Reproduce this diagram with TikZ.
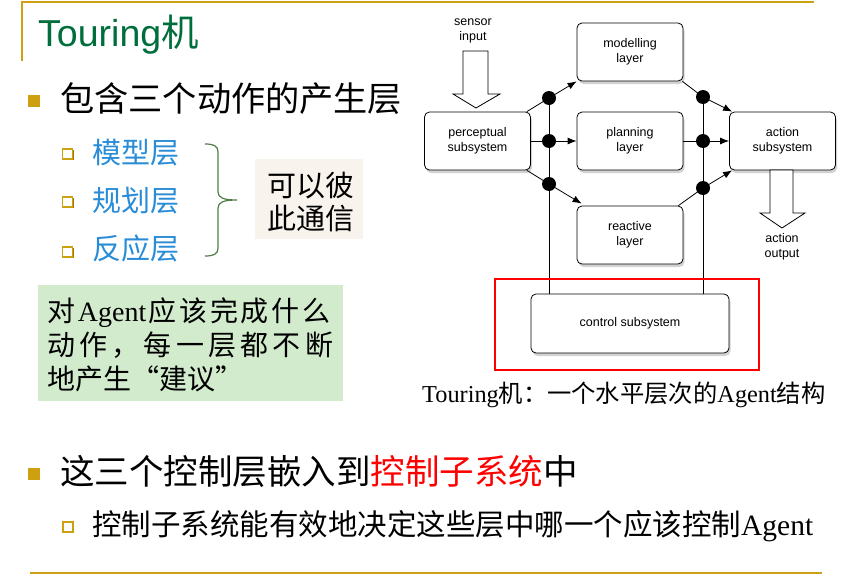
\documentclass[tikz,border=0pt]{standalone}
\usepackage{fontspec}
\setmainfont{Liberation Serif}
\newfontfamily\cjk{Noto Sans CJK SC}
\newfontfamily\sans{Liberation Sans}
\usetikzlibrary{shadows,calc,arrows.meta}

\definecolor{gold}{RGB}{204,160,16}
\definecolor{golddk}{RGB}{165,120,0}
\definecolor{titlegreen}{RGB}{0,110,60}
\definecolor{itemblue}{RGB}{40,140,215}
\definecolor{notegreen}{RGB}{210,235,205}
\definecolor{notebeige}{RGB}{248,243,237}
\definecolor{bracegreen}{RGB}{80,125,70}

\newcommand{\setfs}[1]{\fontsize{#1}{#1}\selectfont}

\begin{document}
\begin{tikzpicture}[x=1pt,y=-1pt,
  txt/.style={anchor=base west, inner sep=0pt},
  hbul/.style={draw=gold, fill=white, line width=1.4pt, minimum size=10pt, inner sep=0pt,
    drop shadow={shadow xshift=1.3pt, shadow yshift=-1.3pt, fill=golddk, opacity=1}},
  box/.style={draw, rounded corners=5pt, fill=white, line width=0.8pt,
    minimum width=106pt, minimum height=58pt, align=center,
    font=\sans\fontsize{12.5}{15}\selectfont,
    drop shadow={shadow xshift=1.5pt, shadow yshift=-3pt, opacity=0.35}},
  lbl/.style={align=center, inner sep=0pt, font=\sans\fontsize{12.5}{14.5}\selectfont},
  jdot/.style={circle, fill=black, inner sep=0pt, minimum size=14pt},
  link/.style={line width=0.8pt},
  arr/.style={link, -{Latex[length=9pt,width=7pt]}},
  hollowarrow/.style={draw, fill=white, line width=0.8pt}
]
\useasboundingbox[fill=white] (0,0) rectangle (844,581);

% slide frame lines
\draw[gold, line width=2pt] (22,61) -- (22,2) -- (814,2);
\draw[gold, line width=2.2pt] (30,573) -- (822,573);

% title
\node[txt, text=titlegreen] (title) at (38,46) {\sans\setfs{37.5}Touring{\cjk 机}};

% first bullet and its items
\fill[gold] (28,95) rectangle (40,107);
\node[txt] (t1) at (60,111) {\cjk\setfs{34.2}包含三个动作的产生层};

\node[hbul] (hb1) at (67.5,154) {};
\node[hbul] (hb2) at (67.5,202) {};
\node[hbul] (hb3) at (67.5,252) {};
\node[txt, text=itemblue] (i1) at (92,163) {\cjk\setfs{29}模型层};
\node[txt, text=itemblue] (i2) at (92,211) {\cjk\setfs{29}规划层};
\node[txt, text=itemblue] (i3) at (92,259) {\cjk\setfs{29}反应层};

% curly brace grouping the three layers
\draw[bracegreen, line width=1.2pt]
  (205,144) .. controls (214,144) and (218,146) .. (218,152) -- (218,192)
  .. controls (218,198) and (224,200) .. (237,200)
  .. controls (224,200) and (218,202) .. (218,208) -- (218,248)
  .. controls (218,254) and (214,256) .. (205,256);

\node[fill=notebeige, minimum width=108pt, minimum height=80pt, inner sep=0pt] (comm) at (309,199) {};
\node[txt] (c1) at (267,196) {\cjk\setfs{29}可以彼};
\node[txt] (c2) at (267,229) {\cjk\setfs{29}此通信};

% green note
\node[fill=notegreen, minimum width=305pt, minimum height=116pt, inner sep=0pt, anchor=north west] (note) at (38,285) {};
\node[txt] (n1) at (47,321) {\setfs{28}\hbox to 283pt{{\cjk 对}\hfill Agent\hfill{\cjk 应\hfill 该\hfill 完\hfill 成\hfill 什\hfill 么}}};
\node[txt] (n2) at (47,355) {\cjk\setfs{28}\hbox to 286pt{动\hfill 作\hfill ，\hfill 每\hfill 一\hfill 层\hfill 都\hfill 不\hfill 断}};
\node[txt] (n3) at (47,389) {\cjk\setfs{28}\hbox to 193pt{地\hfill 产\hfill 生\hfill “\hfill 建\hfill 议\hfill ”}};

% second bullet
\fill[gold] (28,468) rectangle (40,480);
\node[txt] (t2) at (60,484) {\cjk\setfs{34.5}这三个控制层嵌入到\textcolor{red}{控制子系统}中};
\node[hbul] (hb4) at (68,527) {};
\node[txt] (t3) at (92,535) {\setfs{29.5}{\cjk 控制子系统能有效地决定这些层中哪一个应该控制}Agent};

% ---- architecture diagram ----
\node[box] (perc) at (477.5,141) {perceptual\\subsystem};
\node[box] (mod) at (630,52) {modelling\\layer};
\node[box] (plan) at (630,141) {planning\\layer};
\node[box] (react) at (630,235) {reactive\\layer};
\node[box] (act) at (782.5,141) {action\\subsystem};
\node[box, minimum width=198pt, minimum height=59pt] (ctrl) at (630,323.5) {control subsystem};

\node[jdot] (l1) at (549,98) {};
\node[jdot] (l2) at (549,141) {};
\node[jdot] (l3) at (549,184) {};
\node[jdot] (r1) at (703,97) {};
\node[jdot] (r2) at (703,141) {};
\node[jdot] (r3) at (703,188) {};

% control buses
\draw[link] (l1.center) -- (l1.center |- ctrl.north);
\draw[link] (r1.center) -- (r1.center |- ctrl.north);

% perceptual -> layers
\draw[link] ($(perc.north east)+(-4,0)$) -- (l1.center);
\draw[arr] (l1.center) -- (mod.south west);
\draw[link] (perc.east) -- (l2.center);
\draw[arr] (l2.center) -- (plan.west);
\draw[link] ($(perc.south east)+(-4,0)$) -- (l3.center);
\draw[arr] (l3.center) -- ($(react.north west)+(5,-2)$);

% layers -> action
\draw[link] ($(mod.south east)+(-1,0)$) -- (r1.center);
\draw[arr] (r1.center) -- ($(act.north west)+(3,0)$);
\draw[link] (plan.east) -- (r2.center);
\draw[arr] (r2.center) -- (act.west);
\draw[link] ($(react.north east)+(-5,0)$) -- (r3.center);
\draw[arr] (r3.center) -- ($(act.south west)+(3,0)$);

% sensor input / action output block arrows
\node[lbl] (sens) at (473,31) {sensor\\input};
\draw[hollowarrow] (463,51) -- (488,51) -- (488,94) -- (500,94) -- (476,108) -- (453,94) -- (463,94) -- cycle;
\draw[hollowarrow] (770,170) -- (793,170) -- (793,213) -- (805,213) -- (782,228) -- (760,213) -- (770,213) -- cycle;
\node[lbl] (aout) at (782,247) {action\\output};

% highlight of the control subsystem
\draw[red, line width=1.6pt] (495,279) rectangle (759,370);

% caption
\node[txt] (cap) at (422,402) {\setfs{24.3}Touring{\cjk 机：一个水平层次的}Agent{\cjk 结构}};
\end{tikzpicture}
\end{document}
